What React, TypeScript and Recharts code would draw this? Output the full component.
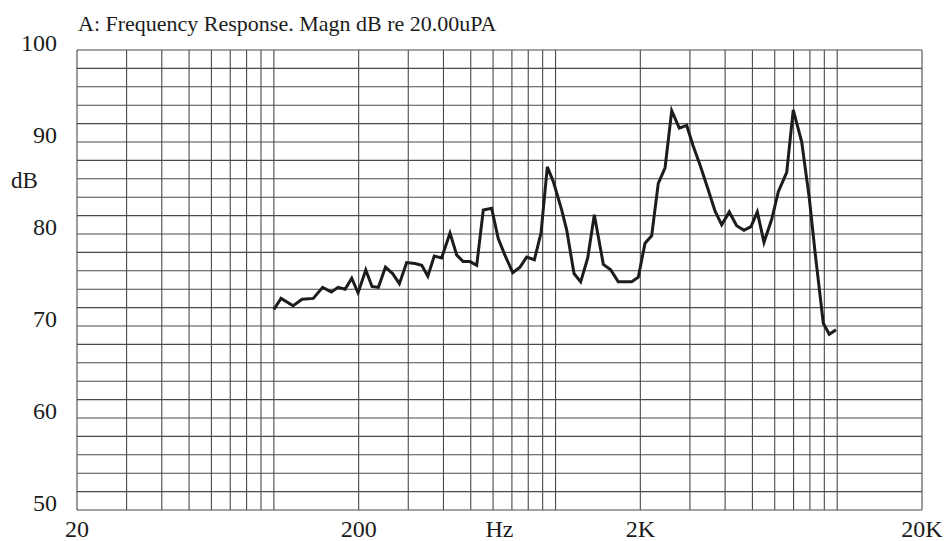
import React from "react";
import { LineChart, Line, XAxis, YAxis, CartesianGrid } from "recharts";

// frequency points (Hz)
const FREQS = [
  100, 106, 117, 126, 138, 149, 160, 169, 179, 189, 199, 212, 223, 235, 249, 264,
  279, 296, 317, 335, 352, 371, 394, 422, 446, 470, 497, 525, 554, 593, 626, 661,
  705, 748, 790, 841, 888, 935, 982, 1052, 1096, 1163, 1228, 1301, 1373, 1478,
  1570, 1670, 1764, 1864, 1967, 2078, 2194, 2316, 2448, 2585, 2750, 2922, 3070,
  3258, 3458, 3682, 3890, 4138, 4396, 4667, 4942, 5204, 5496, 5854, 6180, 6618,
  6982, 7482, 7960, 8338, 8924, 9374, 9902,
];

// magnitude in dB re 20 uPa
const LEVELS = [
  71.8, 73.0, 72.2, 72.9, 73.0, 74.2, 73.7, 74.2, 74.0, 75.2, 73.6, 76.1, 74.3,
  74.2, 76.4, 75.7, 74.6, 76.9, 76.8, 76.6, 75.4, 77.6, 77.4, 80.1, 77.7, 77.0,
  77.0, 76.6, 82.6, 82.8, 79.5, 77.7, 75.8, 76.4, 77.5, 77.2, 80.1, 87.3, 85.7,
  82.6, 80.4, 75.7, 74.8, 77.4, 82.1, 76.7, 76.1, 74.8, 74.8, 74.8, 75.3, 79.0,
  79.8, 85.5, 87.2, 93.4, 91.5, 91.8, 89.7, 87.5, 85.1, 82.5, 81.0, 82.4, 80.9,
  80.4, 80.8, 82.4, 79.1, 81.6, 84.6, 86.7, 93.5, 90.0, 83.9, 78.1, 70.3, 69.1,
  69.6,
];

// grid lines: 1-2-3...9 per decade, 2 dB steps
const X_GRID = [
  20, 30, 40, 50, 60, 70, 80, 90, 100, 200, 300, 400, 500, 600, 700, 800, 900,
  1000, 2000, 3000, 4000, 5000, 6000, 7000, 8000, 9000, 10000, 20000,
];
const X_LABELS: Record<number, string> = { 20: "20", 200: "200", 2000: "2K", 20000: "20K" };
const Y_GRID = [50, 52, 54, 56, 58, 60, 62, 64, 66, 68, 70, 72, 74, 76, 78, 80, 82, 84, 86, 88, 90, 92, 94, 96, 98, 100];
const Y_LABELS = [50, 60, 70, 80, 90, 100];

const FONT = '"Liberation Serif", "DejaVu Serif", serif';
const INK = "#1c1c1c";

const data = FREQS.map((f, i) => ({ f, db: LEVELS[i] }));

const XTick = ({ x, y, payload }: any) => {
  const label = X_LABELS[payload.value];
  if (!label) return null;
  return (
    <text x={x} y={y} dy="0.71em" textAnchor="middle" fontFamily={FONT} fontSize={24} fill={INK}>
      {label}
    </text>
  );
};

const YTick = ({ x, y, payload }: any) => {
  if (!Y_LABELS.includes(payload.value)) return null;
  return (
    <text x={x} y={y - 7.5} dy="0.355em" textAnchor="end" fontFamily={FONT} fontSize={24} fill={INK}>
      {payload.value}
    </text>
  );
};

export default function App() {
  return (
    <div style={{ position: "absolute", left: 0, top: 0, width: 947, height: 541, background: "#fff" }}>
      <div
        style={{
          position: "absolute",
          left: 78,
          top: 13,
          fontFamily: FONT,
          fontSize: 22,
          lineHeight: 1,
          color: INK,
          whiteSpace: "nowrap",
        }}
      >
        A: Frequency Response. Magn dB re 20.00uPA
      </div>
      <div
        style={{
          position: "absolute",
          left: 11,
          top: 169,
          fontFamily: FONT,
          fontSize: 23,
          lineHeight: 1,
          color: INK,
        }}
      >
        dB
      </div>
      <LineChart width={947} height={541} data={data} margin={{ top: 50, right: 25, bottom: 0, left: 0 }}>
        <CartesianGrid stroke="#4a4a4a" strokeWidth={1.1} />
        <XAxis
          dataKey="f"
          type="number"
          scale="log"
          domain={[20, 20000]}
          ticks={X_GRID}
          interval={0}
          allowDataOverflow
          axisLine={false}
          tickLine={false}
          tickSize={0}
          tickMargin={10}
          height={31}
          tick={<XTick />}
          label={{ value: "Hz", position: "insideTop", offset: 10, fontFamily: FONT, fontSize: 24, fill: INK }}
        />
        <YAxis
          type="number"
          domain={[50, 100]}
          ticks={Y_GRID}
          interval={0}
          axisLine={false}
          tickLine={false}
          tickSize={0}
          tickMargin={20}
          width={77}
          tick={<YTick />}
        />
        <Line
          type="linear"
          dataKey="db"
          stroke={INK}
          strokeWidth={3}
          dot={false}
          isAnimationActive={false}
        />
      </LineChart>
    </div>
  );
}
